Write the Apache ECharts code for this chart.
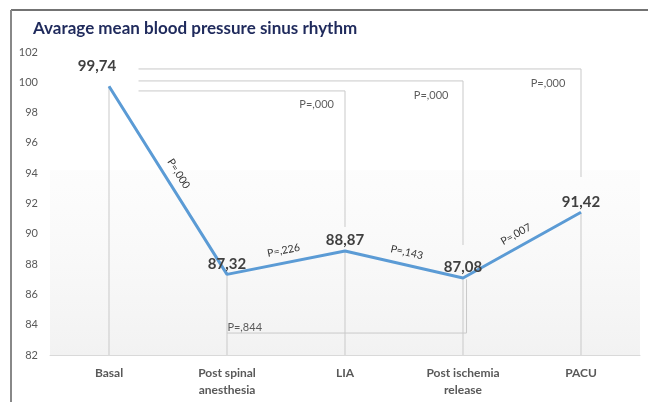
<!DOCTYPE html>
<html>
<head>
<meta charset="utf-8">
<script src="https://cdn.jsdelivr.net/npm/echarts@6/dist/echarts.min.js"></script>
<style>
  html, body { margin: 0; padding: 0; background: #fff; }
  #chart { width: 651px; height: 402px; }
</style>
</head>
<body>
<div id="chart"></div>
<script>
// categories + mean values
var categories = ['Basal', 'Post spinal\nanesthesia', 'LIA', 'Post ischemia\nrelease', 'PACU'];
var meanBP = [99.74, 87.32, 88.87, 87.08, 91.42];

// p values between neighbouring time points
var stepP = ['P=,000', 'P=,226', 'P=,143', 'P=,007'];

// brackets comparing against basal (x on hidden value axis, 0..4 = categories)
var brackets = [
  [[0.25, 100.88], [4, 100.88], [4, 93.75]],
  [[0.25, 100.09], [3, 100.09], [3, 89.26]],
  [[0.25, 99.43], [2, 99.43], [2, 90.45]],
  [[1, 83.45], [3.03, 83.45], [3.03, 87.0]]
];
// drop lines from each point to the axis
var drops = [
  [[0, 99.74], [0, 82]],
  [[1, 87.32], [1, 82]],
  [[2, 88.87], [2, 82]],
  [[3, 87.08], [3, 82]],
  [[4, 91.42], [4, 82]]
];
// bracket p value labels [x, y, text]
var bracketP = [
  [3.72, 99.95, 'P=,000'],
  [2.73, 99.16, 'P=,000'],
  [1.76, 98.57, 'P=,000'],
  [1.15, 83.85, 'P=,844']
];

var fmt = function (v) { return v.toFixed(2).replace('.', ','); };
var font = 'Lato, "Open Sans", sans-serif';

var chart = echarts.init(document.getElementById('chart'));

var stepLines = [];
for (var i = 0; i < stepP.length; i++) {
  stepLines.push([
    { coord: [categories[i], meanBP[i]], label: { formatter: stepP[i] } },
    { coord: [categories[i + 1], meanBP[i + 1]] }
  ]);
}

var lineData = meanBP.map(function (v, i) {
  var item = { value: v };
  if (i === 0) item.label = { offset: [-12, -10] };
  return item;
});

chart.setOption({
  animation: false,
  backgroundColor: '#fff',
  textStyle: { fontFamily: font },
  title: {
    text: 'Avarage mean blood pressure sinus rhythm',
    left: 28,
    top: 15,
    textStyle: { fontSize: 17, fontWeight: 'bold', color: '#1f2a5c', fontFamily: font }
  },
  graphic: [
    { type: 'line', shape: { x1: 11, y1: 10, x2: 648, y2: 10 }, style: { stroke: '#444', lineWidth: 1.5 } },
    { type: 'line', shape: { x1: 11, y1: 10, x2: 11, y2: 402 }, style: { stroke: '#888', lineWidth: 2 } }
  ],
  grid: { left: 50, right: 11, top: 52, bottom: 47 },
  xAxis: [
    {
      type: 'category',
      data: categories,
      axisTick: { show: false },
      axisLine: { lineStyle: { color: '#d9d9d9' } },
      axisLabel: { color: '#595959', fontWeight: 'bold', fontSize: 12, lineHeight: 17, margin: 10, interval: 0 }
    },
    { type: 'value', min: -0.5, max: 4.5, show: false }
  ],
  yAxis: {
    type: 'value',
    min: 82,
    max: 102,
    interval: 2,
    axisLine: { show: false },
    axisTick: { show: false },
    splitLine: { show: false },
    axisLabel: { color: '#595959', fontSize: 11, margin: 12 }
  },
  series: [
    {
      type: 'lines',
      coordinateSystem: 'cartesian2d',
      xAxisIndex: 1,
      polyline: true,
      silent: true,
      z: 1,
      lineStyle: { color: '#c9c9c9', width: 1, opacity: 1 },
      data: brackets.concat(drops).map(function (c) { return { coords: c }; }),
      markArea: {
        silent: true,
        itemStyle: {
          color: new echarts.graphic.LinearGradient(0, 0, 0, 1, [
            { offset: 0, color: 'rgba(250,250,250,0.5)' },
            { offset: 1, color: 'rgba(242,242,242,1)' }
          ])
        },
        data: [[{ coord: [-0.5, 94.2] }, { coord: [4.5, 82] }]]
      }
    },
    {
      type: 'scatter',
      xAxisIndex: 1,
      symbolSize: 0,
      silent: true,
      data: bracketP,
      label: {
        show: true,
        position: 'inside',
        color: '#333',
        fontSize: 11,
        formatter: function (p) { return p.value[2]; }
      }
    },
    {
      type: 'line',
      data: lineData,
      symbol: 'circle',
      symbolSize: 0.1,
      showSymbol: true,
      z: 5,
      itemStyle: { color: '#5b9bd5' },
      lineStyle: { color: '#5b9bd5', width: 3 },
      label: {
        show: true,
        position: 'top',
        distance: 3,
        color: '#404040',
        fontSize: 15,
        fontWeight: 'bold',
        formatter: function (p) { return fmt(p.value); }
      },
      markLine: {
        silent: true,
        symbol: ['none', 'none'],
        lineStyle: { color: 'rgba(0,0,0,0)', width: 0 },
        label: {
          show: true,
          position: 'insideMiddleTop',
          distance: 7,
          color: '#333',
          fontSize: 10.5
        },
        data: stepLines
      }
    }
  ]
});
</script>
</body>
</html>
